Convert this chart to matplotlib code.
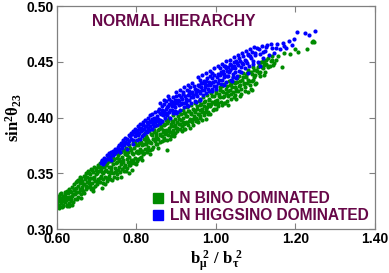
import matplotlib
matplotlib.use("Agg")
import matplotlib.pyplot as plt
from matplotlib.lines import Line2D

plt.rcParams['mathtext.fontset'] = 'custom'
plt.rcParams['mathtext.rm'] = 'Liberation Serif:bold'
plt.rcParams['mathtext.bf'] = 'Liberation Serif:bold'
plt.rcParams['mathtext.it'] = 'Liberation Serif:bold'

# LN bino dominated points (b_mu^2/b_tau^2, sin^2 theta_23)
bino_x = [
    0.601, 0.603, 0.604, 0.606, 0.607, 0.609, 0.610, 0.612, 0.613, 0.615, 0.616, 0.618, 0.619, 0.621, 0.622, 0.624, 0.625,
    0.627, 0.628, 0.630, 0.631, 0.633, 0.634, 0.636, 0.637, 0.639, 0.640, 0.642, 0.643, 0.645, 0.646, 0.648, 0.649,
    0.651, 0.652, 0.654, 0.655, 0.657, 0.658, 0.660, 0.661, 0.663, 0.664, 0.666, 0.667, 0.669, 0.670, 0.672, 0.673,
    0.675, 0.676, 0.678, 0.679, 0.681, 0.682, 0.684, 0.685, 0.687, 0.688, 0.690, 0.691, 0.693, 0.694, 0.696, 0.697, 0.699,
    0.701, 0.702, 0.704, 0.705, 0.707, 0.708, 0.710, 0.711, 0.713, 0.714, 0.716, 0.717, 0.719, 0.720, 0.722, 0.723,
    0.725, 0.726, 0.728, 0.729, 0.731, 0.732, 0.734, 0.735, 0.737, 0.738, 0.740, 0.741, 0.743, 0.744, 0.746, 0.747, 0.749,
    0.751, 0.752, 0.754, 0.755, 0.757, 0.758, 0.760, 0.761, 0.763, 0.764, 0.766, 0.767, 0.769, 0.770, 0.772, 0.773,
    0.775, 0.776, 0.778, 0.779, 0.781, 0.782, 0.784, 0.785, 0.787, 0.788, 0.790, 0.791, 0.793, 0.794, 0.796, 0.797, 0.799,
    0.801, 0.803, 0.804, 0.806, 0.808, 0.809, 0.811, 0.812, 0.814, 0.816, 0.817, 0.819, 0.821, 0.822, 0.824,
    0.826, 0.827, 0.829, 0.831, 0.832, 0.834, 0.836, 0.837, 0.839, 0.841, 0.842, 0.844, 0.846, 0.847, 0.849,
    0.851, 0.853, 0.854, 0.856, 0.858, 0.859, 0.861, 0.863, 0.864, 0.866, 0.868, 0.869, 0.871, 0.873, 0.874,
    0.877, 0.878, 0.879, 0.881, 0.883, 0.884, 0.886, 0.888, 0.889, 0.891, 0.893, 0.894, 0.896, 0.898, 0.899,
    0.902, 0.904, 0.906, 0.908, 0.910, 0.912, 0.914, 0.916, 0.918, 0.920, 0.922, 0.924,
    0.926, 0.928, 0.930, 0.932, 0.934, 0.936, 0.938, 0.940, 0.942, 0.944, 0.946, 0.948,
    0.951, 0.953, 0.955, 0.957, 0.959, 0.961, 0.963, 0.965, 0.967, 0.969, 0.971, 0.973,
    0.975, 0.977, 0.979, 0.981, 0.983, 0.985, 0.987, 0.990, 0.992, 0.994, 0.997, 0.999,
    1.002, 1.004, 1.007, 1.009, 1.012, 1.014, 1.017, 1.019, 1.022, 1.024,
    1.027, 1.029, 1.032, 1.034, 1.037, 1.039, 1.042, 1.044, 1.047, 1.049,
    1.052, 1.055, 1.058, 1.060, 1.063, 1.066, 1.069, 1.072, 1.075, 1.078, 1.081, 1.084, 1.087, 1.090, 1.093, 1.096, 1.099,
    1.103, 1.107, 1.111, 1.115, 1.119, 1.123, 1.127, 1.132, 1.136, 1.141, 1.146, 1.150,
    1.157, 1.166, 1.172, 1.186, 1.198, 1.206, 1.229, 1.241, 1.245, 1.247,
    # second pass, read between the first ones
    0.6005, 0.602, 0.6045, 0.608, 0.611, 0.6145, 0.617, 0.6205, 0.623, 0.626, 0.629, 0.6325, 0.635, 0.638, 0.6415,
    0.644, 0.647, 0.650, 0.653, 0.656, 0.659, 0.662, 0.665, 0.668, 0.671, 0.674, 0.677, 0.680, 0.683, 0.686, 0.689,
    0.692, 0.695, 0.698,
    0.7015, 0.7035, 0.706, 0.709, 0.712, 0.715, 0.718, 0.721, 0.724, 0.727, 0.730, 0.733, 0.736, 0.739, 0.742, 0.745,
    0.748, 0.750, 0.753, 0.756, 0.759, 0.762, 0.765, 0.768, 0.771, 0.774, 0.777, 0.780, 0.783, 0.786, 0.789, 0.792,
    0.795, 0.798,
    0.802, 0.805, 0.807, 0.810, 0.813, 0.815, 0.818, 0.820, 0.823, 0.825, 0.828, 0.830, 0.833, 0.835, 0.838, 0.840,
    0.843, 0.845, 0.848, 0.850, 0.852, 0.855, 0.857, 0.860, 0.862, 0.865, 0.867, 0.870, 0.872, 0.875, 0.876, 0.880,
    0.882, 0.885, 0.887, 0.890, 0.892, 0.895, 0.897,
    0.901, 0.903, 0.907, 0.909, 0.911, 0.915, 0.917, 0.919, 0.921, 0.925, 0.927, 0.929, 0.933, 0.935, 0.937, 0.941,
    0.943, 0.945, 0.949, 0.952, 0.954, 0.958, 0.960, 0.964, 0.966, 0.970, 0.972, 0.976, 0.978, 0.982, 0.984, 0.988,
    0.991, 0.995, 0.998,
    1.001, 1.005, 1.008, 1.011, 1.015, 1.018, 1.021, 1.025, 1.028, 1.031, 1.035, 1.038, 1.041, 1.045, 1.048, 1.051,
    1.054, 1.057, 1.061, 1.064, 1.068, 1.071, 1.074, 1.077, 1.080, 1.085, 1.088, 1.092, 1.095, 1.098, 1.105, 1.109,
    1.113, 1.117, 1.121, 1.125, 1.130, 1.138, 1.143,
    # band edges
    0.605, 0.630, 0.660, 0.690, 0.720, 0.750, 0.780, 0.650, 0.680, 0.710, 0.740, 0.770, 0.800,
    0.920, 0.950, 0.980, 1.000, 1.030, 1.060, 1.090, 1.120, 0.960, 1.020, 1.050, 1.080, 1.100,
    1.010, 1.030, 1.050, 1.070, 1.090, 1.110, 1.130, 1.015, 1.045, 1.075, 1.100, 1.120, 1.140,
]
bino_y = [
    0.324, 0.328, 0.321, 0.326, 0.331, 0.323, 0.328, 0.320, 0.325, 0.330, 0.322, 0.327, 0.333, 0.324, 0.329, 0.321, 0.334,
    0.327, 0.332, 0.323, 0.336, 0.329, 0.325, 0.333, 0.338, 0.330, 0.324, 0.335, 0.340, 0.331, 0.327, 0.337, 0.342,
    0.333, 0.339, 0.329, 0.344, 0.336, 0.341, 0.331, 0.346, 0.338, 0.343, 0.334, 0.348, 0.340, 0.345, 0.336, 0.350,
    0.342, 0.347, 0.338, 0.352, 0.344, 0.349, 0.339, 0.354, 0.346, 0.341, 0.351, 0.337, 0.356, 0.347, 0.343, 0.353, 0.349,
    0.340, 0.357, 0.345, 0.352, 0.342, 0.359, 0.348, 0.354, 0.337, 0.361, 0.350, 0.345, 0.356, 0.362, 0.347, 0.353,
    0.343, 0.359, 0.351, 0.364, 0.348, 0.356, 0.345, 0.361, 0.353, 0.366, 0.350, 0.358, 0.347, 0.363, 0.355, 0.368, 0.352,
    0.360, 0.349, 0.366, 0.356, 0.363, 0.351, 0.369, 0.358, 0.354, 0.365, 0.371, 0.360, 0.352, 0.367, 0.357, 0.373,
    0.363, 0.355, 0.369, 0.360, 0.375, 0.365, 0.357, 0.371, 0.362, 0.353, 0.377, 0.367, 0.359, 0.373, 0.364, 0.379, 0.369,
    0.361, 0.375, 0.368, 0.381, 0.364, 0.372, 0.365, 0.378, 0.370, 0.384, 0.367, 0.376, 0.372, 0.386, 0.379,
    0.369, 0.382, 0.374, 0.388, 0.378, 0.371, 0.385, 0.377, 0.390, 0.381, 0.374, 0.387, 0.379, 0.392, 0.383,
    0.376, 0.389, 0.381, 0.394, 0.385, 0.378, 0.391, 0.383, 0.396, 0.387, 0.380, 0.393, 0.385, 0.398, 0.389,
    0.371, 0.395, 0.384, 0.391, 0.400, 0.387, 0.394, 0.383, 0.397, 0.389, 0.402, 0.392, 0.386, 0.399, 0.391,
    0.388, 0.401, 0.394, 0.405, 0.390, 0.398, 0.392, 0.407, 0.400, 0.394, 0.404, 0.396,
    0.409, 0.401, 0.393, 0.406, 0.399, 0.411, 0.403, 0.396, 0.408, 0.401, 0.413, 0.405,
    0.398, 0.410, 0.403, 0.415, 0.407, 0.400, 0.412, 0.405, 0.418, 0.410, 0.402, 0.415,
    0.408, 0.420, 0.412, 0.405, 0.417, 0.410, 0.422, 0.414, 0.407, 0.419, 0.412, 0.424,
    0.416, 0.410, 0.421, 0.427, 0.414, 0.424, 0.418, 0.430, 0.413, 0.422,
    0.428, 0.419, 0.433, 0.425, 0.417, 0.430, 0.423, 0.436, 0.427, 0.420,
    0.432, 0.424, 0.437, 0.429, 0.421, 0.434, 0.440, 0.427, 0.436, 0.431, 0.443, 0.433, 0.426, 0.439, 0.445, 0.436, 0.430,
    0.442, 0.448, 0.437, 0.445, 0.451, 0.441, 0.448, 0.453, 0.446, 0.455, 0.449, 0.452,
    0.455, 0.445, 0.458, 0.457, 0.461, 0.459, 0.461, 0.468, 0.469, 0.468,
    # second pass
    0.327, 0.322, 0.330, 0.325, 0.332, 0.3205, 0.329, 0.331, 0.326, 0.3215, 0.329, 0.334, 0.327, 0.322, 0.331,
    0.336, 0.333, 0.327, 0.344, 0.333, 0.347, 0.335, 0.340, 0.332, 0.348, 0.339, 0.351, 0.341, 0.346, 0.336, 0.353,
    0.345, 0.339, 0.355,
    0.350, 0.343, 0.356, 0.346, 0.351, 0.341, 0.360, 0.352, 0.357, 0.346, 0.361, 0.350, 0.356, 0.344, 0.364, 0.351,
    0.359, 0.364, 0.353, 0.368, 0.361, 0.347, 0.362, 0.356, 0.370, 0.352, 0.366, 0.357, 0.373, 0.359, 0.368, 0.362,
    0.376, 0.358,
    0.370, 0.363, 0.377, 0.369, 0.375, 0.362, 0.381, 0.368, 0.376, 0.383, 0.371, 0.380, 0.367, 0.378, 0.384, 0.372,
    0.381, 0.389, 0.376, 0.386, 0.382, 0.373, 0.390, 0.384, 0.392, 0.379, 0.389, 0.382, 0.394, 0.386, 0.380, 0.397,
    0.388, 0.381, 0.392, 0.386, 0.396, 0.383, 0.393,
    0.396, 0.391, 0.399, 0.394, 0.403, 0.388, 0.396, 0.404, 0.390, 0.401, 0.395, 0.406, 0.397, 0.391, 0.404, 0.399,
    0.393, 0.407, 0.400, 0.408, 0.396, 0.403, 0.411, 0.398, 0.408, 0.414, 0.405, 0.399, 0.409, 0.416, 0.403, 0.412,
    0.419, 0.408, 0.415,
    0.422, 0.413, 0.419, 0.425, 0.411, 0.423, 0.419, 0.426, 0.415, 0.424, 0.429, 0.421, 0.427, 0.418, 0.431, 0.426,
    0.435, 0.428, 0.433, 0.426, 0.436, 0.431, 0.424, 0.440, 0.434, 0.429, 0.441, 0.434, 0.443, 0.438, 0.445, 0.440,
    0.450, 0.444, 0.447, 0.452, 0.446, 0.451, 0.447,
    # band edges
    0.319, 0.321, 0.328, 0.334, 0.340, 0.346, 0.350, 0.343, 0.350, 0.356, 0.362, 0.368, 0.375,
    0.390, 0.397, 0.403, 0.408, 0.411, 0.419, 0.425, 0.438, 0.401, 0.413, 0.417, 0.423, 0.431,
    0.418, 0.420, 0.424, 0.430, 0.433, 0.441, 0.445, 0.428, 0.432, 0.438, 0.443, 0.449, 0.452,
]

# LN higgsino dominated points
higgsino_x = [
    0.710, 0.713, 0.716, 0.719, 0.722, 0.725, 0.728, 0.731, 0.734, 0.737, 0.740, 0.743, 0.746, 0.749,
    0.752, 0.755, 0.758, 0.761, 0.764, 0.767, 0.769, 0.772, 0.775, 0.777, 0.780, 0.782, 0.785, 0.787, 0.790,
    0.792, 0.795, 0.797, 0.799,
    0.802, 0.804, 0.806, 0.808, 0.810, 0.812, 0.814, 0.816, 0.818, 0.820, 0.822, 0.824,
    0.826, 0.828, 0.830, 0.832, 0.834, 0.836, 0.838, 0.840, 0.842, 0.844, 0.846, 0.848,
    0.851, 0.853, 0.855, 0.857, 0.859, 0.861, 0.863, 0.865, 0.867, 0.869, 0.871, 0.873, 0.875,
    0.877, 0.879, 0.881, 0.883, 0.885, 0.887, 0.889, 0.891, 0.893, 0.895, 0.897, 0.899,
    0.902, 0.904, 0.906, 0.908, 0.910, 0.913, 0.915, 0.917, 0.919, 0.921, 0.924,
    0.926, 0.928, 0.931, 0.933, 0.935, 0.937, 0.940, 0.942, 0.944, 0.947, 0.949,
    0.952, 0.954, 0.957, 0.959, 0.962, 0.964, 0.967, 0.969, 0.972,
    0.975, 0.977, 0.980, 0.983, 0.985, 0.988, 0.991, 0.994, 0.997,
    1.001, 1.004, 1.007, 1.010, 1.013, 1.016, 1.019, 1.022, 1.025,
    1.028, 1.031, 1.034, 1.037, 1.040, 1.043, 1.046, 1.049,
    1.053, 1.056, 1.059, 1.062, 1.066, 1.069, 1.073, 1.076, 1.080, 1.083, 1.087, 1.090, 1.094, 1.097,
    1.102, 1.106, 1.110, 1.115, 1.119, 1.124, 1.129, 1.134, 1.140, 1.147,
    1.153, 1.160, 1.168, 1.176, 1.183, 1.190, 1.204, 1.224, 1.234, 1.249,
    # second pass
    0.7125, 0.718, 0.724, 0.730, 0.736, 0.742, 0.748, 0.753, 0.757, 0.762, 0.766, 0.771, 0.776, 0.779, 0.783, 0.788,
    0.791, 0.794, 0.798,
    0.801, 0.805, 0.807, 0.811, 0.815, 0.817, 0.821, 0.823, 0.827, 0.829, 0.833, 0.835, 0.839, 0.841, 0.845, 0.847,
    0.852, 0.854, 0.858, 0.860, 0.864, 0.866, 0.870, 0.872, 0.876, 0.878, 0.882, 0.884, 0.888, 0.890, 0.894, 0.896,
    0.898,
    0.903, 0.907, 0.911, 0.914, 0.918, 0.920, 0.925, 0.929, 0.932, 0.936, 0.939, 0.943, 0.946, 0.950,
    0.953, 0.956, 0.960, 0.963, 0.966, 0.970, 0.973, 0.976, 0.979, 0.982, 0.986, 0.989, 0.993, 0.996,
    1.002, 1.006, 1.009, 1.012, 1.015, 1.018, 1.021, 1.024, 1.027, 1.030, 1.033, 1.036, 1.039, 1.042, 1.045, 1.048,
    1.052, 1.057, 1.061, 1.064, 1.068, 1.072, 1.078, 1.085, 1.092, 1.099, 1.108, 1.117, 1.126, 1.138, 1.150, 1.172,
    1.197,
    # band edges
    0.860, 0.880, 0.900, 0.920, 0.940, 0.955, 0.965, 0.975, 0.985, 0.995, 1.005, 1.015, 1.025, 1.035,
    1.045, 1.055, 1.065, 1.075, 1.085, 1.095, 0.870, 0.910, 0.930, 0.960, 0.990, 1.020, 1.050, 1.080,
    0.900, 0.930, 0.960, 0.990, 1.020, 1.050, 1.080, 1.110, 0.950, 1.000, 1.040,
]
higgsino_y = [
    0.359, 0.362, 0.358, 0.364, 0.361, 0.366, 0.363, 0.368, 0.365, 0.362, 0.370, 0.367, 0.372, 0.369,
    0.371, 0.375, 0.369, 0.377, 0.373, 0.380, 0.375, 0.382, 0.377, 0.372, 0.384, 0.379, 0.386, 0.381, 0.376,
    0.388, 0.383, 0.390, 0.385,
    0.380, 0.392, 0.386, 0.381, 0.394, 0.388, 0.383, 0.396, 0.390, 0.385, 0.398, 0.392,
    0.387, 0.400, 0.394, 0.389, 0.402, 0.396, 0.390, 0.403, 0.397, 0.392, 0.405, 0.399,
    0.393, 0.406, 0.399, 0.408, 0.395, 0.403, 0.410, 0.397, 0.405, 0.412, 0.400, 0.408, 0.415,
    0.402, 0.410, 0.405, 0.417, 0.400, 0.412, 0.407, 0.418, 0.404, 0.414, 0.409, 0.419,
    0.405, 0.416, 0.411, 0.420, 0.407, 0.418, 0.413, 0.423, 0.409, 0.419, 0.414,
    0.425, 0.411, 0.421, 0.416, 0.427, 0.413, 0.423, 0.418, 0.428, 0.415, 0.424,
    0.419, 0.429, 0.424, 0.416, 0.431, 0.425, 0.420, 0.433, 0.427,
    0.422, 0.435, 0.429, 0.424, 0.437, 0.431, 0.426, 0.438, 0.433,
    0.428, 0.439, 0.434, 0.444, 0.430, 0.440, 0.436, 0.446, 0.432,
    0.442, 0.437, 0.448, 0.434, 0.444, 0.439, 0.450, 0.441,
    0.437, 0.447, 0.453, 0.441, 0.449, 0.455, 0.444, 0.451, 0.457, 0.446, 0.453, 0.459, 0.448, 0.456,
    0.462, 0.450, 0.457, 0.464, 0.453, 0.460, 0.465, 0.456, 0.462, 0.458,
    0.466, 0.461, 0.467, 0.462, 0.469, 0.465, 0.477, 0.476, 0.474, 0.478,
    # second pass
    0.361, 0.360, 0.363, 0.366, 0.369, 0.366, 0.371, 0.374, 0.372, 0.375, 0.378, 0.378, 0.381, 0.376, 0.383, 0.385,
    0.380, 0.387, 0.389,
    0.388, 0.384, 0.390, 0.391, 0.389, 0.393, 0.392, 0.388, 0.396, 0.391, 0.397, 0.392, 0.399, 0.394, 0.400, 0.396,
    0.401, 0.397, 0.404, 0.398, 0.407, 0.402, 0.406, 0.403, 0.409, 0.404, 0.412, 0.407, 0.415, 0.410, 0.411, 0.416,
    0.406,
    0.413, 0.415, 0.412, 0.417, 0.421, 0.413, 0.417, 0.420, 0.424, 0.418, 0.422, 0.420, 0.426, 0.421,
    0.425, 0.428, 0.422, 0.427, 0.431, 0.425, 0.430, 0.433, 0.426, 0.432, 0.429, 0.435, 0.432, 0.428,
    0.436, 0.431, 0.438, 0.441, 0.434, 0.442, 0.439, 0.444, 0.437, 0.445, 0.441, 0.443, 0.447, 0.436, 0.446, 0.444,
    0.449, 0.442, 0.451, 0.445, 0.448, 0.452, 0.449, 0.455, 0.451, 0.458, 0.461, 0.459, 0.463, 0.466, 0.462, 0.464,
    0.470,
    # band edges
    0.413, 0.419, 0.423, 0.427, 0.431, 0.436, 0.438, 0.440, 0.442, 0.444, 0.446, 0.448, 0.451, 0.452,
    0.454, 0.456, 0.458, 0.460, 0.461, 0.463, 0.416, 0.425, 0.429, 0.434, 0.440, 0.446, 0.451, 0.456,
    0.404, 0.410, 0.417, 0.424, 0.429, 0.435, 0.440, 0.446, 0.414, 0.426, 0.433,
]

labels = ['LN BINO DOMINATED', 'LN HIGGSINO DOMINATED']
title = 'NORMAL HIERARCHY'
xticks = [0.60, 0.80, 1.00, 1.20, 1.40]
yticks = [0.30, 0.35, 0.40, 0.45, 0.50]

green = '#008b00'
blue = '#0000ff'
maroon = '#670748'
frame = '#808080'

fig = plt.figure(figsize=(3.89, 2.73), dpi=100)
ax = fig.add_axes([0.1465, 0.161, 0.8175, 0.817])

ax.scatter(bino_x, bino_y, s=9, color=green, linewidths=0)
ax.scatter(higgsino_x, higgsino_y, s=9, color=blue, linewidths=0)

ax.set_xlim(0.6, 1.4)
ax.set_ylim(0.3, 0.5)
ax.set_xticks(xticks)
ax.set_yticks(yticks)
ax.set_xticklabels(['%.2f' % v for v in xticks])
ax.set_yticklabels(['%.2f' % v for v in yticks])
ax.tick_params(direction='in', top=True, right=True, length=4.5, width=0.8,
               color=frame, pad=2, labelsize=10)
for lab in ax.get_xticklabels() + ax.get_yticklabels():
    lab.set_fontfamily('Liberation Sans')
    lab.set_fontweight('bold')
for sp in ax.spines.values():
    sp.set_color(frame)
    sp.set_linewidth(0.9)

ax.set_xlabel(r'$\mathbf{b}_{\mu}^{\ 2}\ \mathbf{/}\ \mathbf{b}_{\tau}^{\ 2}$', fontsize=12, labelpad=2)
ax.set_ylabel(r'$\mathbf{sin}^{2}\theta_{23}$', fontsize=12, labelpad=2)

ax.text(0.688, 0.4865, title, color=maroon, fontsize=11.2, fontweight='bold',
        fontfamily='Liberation Sans', va='center', ha='left')

handles = [Line2D([], [], linestyle='none', marker='s', markersize=7.5, color=c)
           for c in (green, blue)]
ax.legend(handles, labels, loc='lower right', bbox_to_anchor=(1.005, -0.008),
          frameon=False, borderpad=0, handlelength=0.6, handletextpad=0.45,
          labelspacing=0.1, labelcolor=maroon,
          prop={'family': 'Liberation Sans', 'weight': 'bold', 'size': 11.2})

fig.savefig('out.png', dpi=100)
